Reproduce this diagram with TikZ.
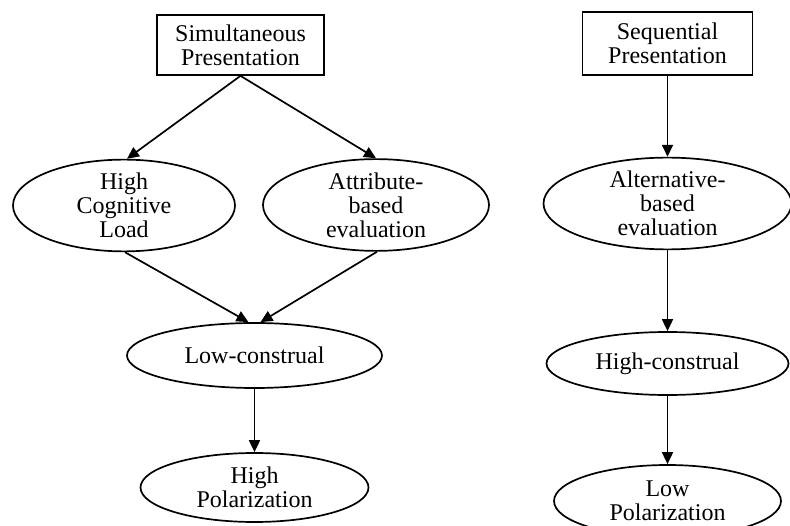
\documentclass[tikz,border=0pt]{standalone}
\usepackage{fontspec}
\setmainfont{Liberation Serif}
\usetikzlibrary{arrows.meta,shapes.geometric,calc}
\begin{document}
\begin{tikzpicture}[x=1pt,y=-1pt,
  every node/.style={font=\fontsize{24}{24}\selectfont, align=center, inner sep=0pt, line width=1.7pt, draw=black},
  boxnode/.style={rectangle},
  ellnode/.style={ellipse},
  conn/.style={line width=1.7pt, -{Triangle[length=12pt,width=11pt]}}]
\useasboundingbox (0,0) rectangle (790,526);
\node[boxnode, minimum width=167pt, minimum height=60pt] (sim) at (240.5,45) {Simultaneous\\Presentation};
\node[boxnode, minimum width=170pt, minimum height=63pt] (seq) at (667.5,43.5) {Sequential\\Presentation};
\node[ellnode, minimum width=222pt, minimum height=86pt] (hcl) at (124,205.5) {High\\Cognitive\\Load};
\node[ellnode, minimum width=226pt, minimum height=86pt] (abe) at (376,205) {Attribute-\\based\\evaluation};
\node[ellnode, minimum width=255pt, minimum height=65pt] (low) at (254.5,355.5) {Low-construal};
\node[ellnode, minimum width=228pt, minimum height=69pt] (hp) at (254.5,487.5) {High\\Polarization};
\node[ellnode, minimum width=248pt, minimum height=87pt] (alt) at (667.5,203.5) {Alternative-\\based\\evaluation};
\node[ellnode, minimum width=242pt, minimum height=63pt] (hc) at (667.5,363.5) {High-construal};
\node[ellnode, minimum width=227pt, minimum height=72pt] (lp) at (667.5,501) {Low\\Polarization};
\draw[conn] (sim.south) -- ($(hcl.north)+(3,0)$);
\draw[conn] (sim.south) -- (abe.north);
\draw[conn] ($(hcl.south)+(1,0)$) -- ($(low.north)+(-6,0)$);
\draw[conn] ($(abe.south)+(1,0)$) -- ($(low.north)+(6,0)$);
\draw[conn] (low.south) -- (hp.north);
\draw[conn] (seq.south) -- (alt.north);
\draw[conn] (alt.south) -- (hc.north);
\draw[conn] (hc.south) -- (lp.north);
\end{tikzpicture}
\end{document}
